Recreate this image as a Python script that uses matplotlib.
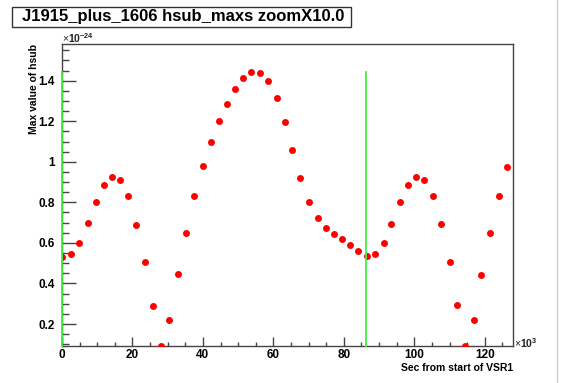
"""
hsub_maxs_zoom.py

Max value of hsub versus seconds from start of VSR1 (ROOT-style canvas).
"""
import numpy as np
import matplotlib
matplotlib.use('Agg')
import matplotlib.pyplot as plt
from matplotlib.patches import Rectangle
from matplotlib.ticker import MultipleLocator, FuncFormatter

plt.rcParams['font.family'] = ['Liberation Sans', 'DejaVu Sans']
plt.rcParams['mathtext.fontset'] = 'custom'
plt.rcParams['mathtext.rm'] = 'Liberation Sans'
plt.rcParams['mathtext.bf'] = 'Liberation Sans:bold'

# data (x in units of 1e3 s, y in units of 1e-24)
sec_k = [0, 2.5, 4.8, 7.3, 9.6, 11.8, 14.1, 16.5, 18.7, 21.1, 23.6, 25.9, 28.2,
         30.5, 32.8, 35.1, 37.4, 40.0, 42.2, 44.6, 46.9, 49.1, 51.4, 53.7, 56.2,
         58.6, 60.9, 63.2, 65.4, 67.6, 70.2, 72.6, 74.9, 77.2, 79.5, 81.8, 84.1,
         86.5, 88.9, 91.3, 93.5, 95.8, 98.1, 100.5, 102.8, 105.3, 107.6, 110.0,
         112.2, 114.5, 116.8, 119.0, 121.6, 124.0, 126.2]
hsub_max = [0.532, 0.544, 0.601, 0.697, 0.801, 0.885, 0.924, 0.908, 0.829, 0.689,
            0.506, 0.289, 0.092, 0.221, 0.447, 0.649, 0.829, 0.980, 1.099, 1.202,
            1.285, 1.360, 1.411, 1.444, 1.440, 1.397, 1.313, 1.198, 1.059, 0.919,
            0.804, 0.722, 0.674, 0.646, 0.621, 0.590, 0.559, 0.534, 0.544, 0.601,
            0.694, 0.801, 0.885, 0.924, 0.908, 0.829, 0.694, 0.506, 0.292, 0.092,
            0.221, 0.443, 0.649, 0.829, 0.975]
marker_lines_k = [0, 86.4]   # start and one sidereal day
title = 'J1915_plus_1606 hsub_maxs zoomX10.0'

W, H = 565, 383
fig = plt.figure(figsize=(W / 100, H / 100), dpi=100)
ax = fig.add_axes([62 / W, 1 - 346 / H, (513 - 62) / W, (346 - 44) / H])

ax.plot(sec_k, hsub_max, 'o', color='red', markersize=5, markeredgewidth=0, zorder=3)
for xv in marker_lines_k:
    ax.plot([xv, xv], [0.0915, max(hsub_max)], color='#44ee44', lw=1.3, zorder=4,
            clip_on=False)

ax.set_xlim(0, 128)
ax.set_ylim(0.0915, 1.581)

ax.xaxis.set_major_locator(MultipleLocator(20))
ax.xaxis.set_minor_locator(MultipleLocator(5))
ax.yaxis.set_major_locator(MultipleLocator(0.2))
ax.yaxis.set_minor_locator(MultipleLocator(0.05))
ax.yaxis.set_major_formatter(FuncFormatter(lambda v, p: f'{v:g}'))
ax.xaxis.set_major_formatter(FuncFormatter(lambda v, p: f'{v:g}'))

axc = '#444444'
for s in ax.spines.values():
    s.set_color(axc)
    s.set_linewidth(1.0)
ax.tick_params(axis='y', which='major', direction='in', length=10, width=1,
               color=axc, pad=5, labelsize=8.5)
ax.tick_params(axis='y', which='minor', direction='in', length=5, width=1, color=axc)
ax.tick_params(axis='x', which='major', direction='in', length=6.5, width=1,
               color=axc, pad=2.5, labelsize=8.5)
ax.tick_params(axis='x', which='minor', direction='in', length=3.2, width=1, color=axc)
for lab in ax.get_xticklabels() + ax.get_yticklabels():
    lab.set_fontweight('bold')

# axis titles, ROOT style
fig.text(34 / W, 1 - 44 / H, 'Max value of hsub', rotation=90, ha='center', va='top',
         fontsize=7.5, fontweight='bold')
fig.text(513 / W, 1 - 368 / H, 'Sec from start of VSR1', ha='right', va='center',
         fontsize=7.5, fontweight='bold')
fig.text(62 / W, 1 - 38 / H, r'$\times\mathbf{10^{-24}}$', ha='left', va='center',
         fontsize=7.5, color='#222222')
fig.text(514 / W, 1 - 343 / H, r'$\times\mathbf{10^{3}}$', ha='left', va='center',
         fontsize=7.5, color='#222222')

# title box
fig.patches.append(Rectangle((12 / W, 1 - 27 / H), (351 - 12) / W, 20 / H,
                             transform=fig.transFigure, fill=False, ec='#333333', lw=1))
fig.text(22 / W, 1 - 17 / H, title, ha='left', va='center', fontsize=12, fontweight='bold')

# canvas border at right
fig.add_artist(plt.Line2D([557 / W, 557 / W], [0, 1], transform=fig.transFigure,
                          color='#cccccc', lw=1))

fig.savefig('out.png', dpi=100)
